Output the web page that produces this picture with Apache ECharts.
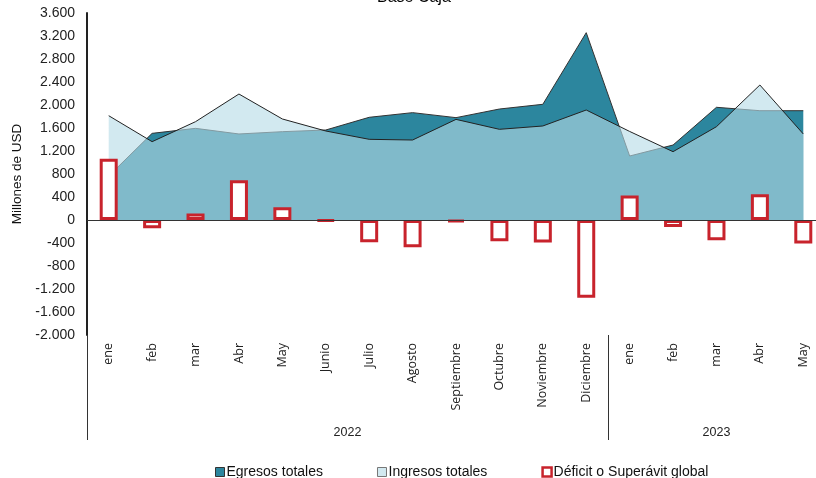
<!DOCTYPE html>
<html>
<head>
<meta charset="utf-8">
<script src="https://cdn.jsdelivr.net/npm/echarts@6/dist/echarts.min.js"></script>
<style>
html,body{margin:0;padding:0;background:#fff;}
#chart{width:816px;height:478px;}
</style>
</head>
<body>
<div id="chart"></div>
<script>
// ---- data ----
const months = ['ene','feb','mar','Abr','May','Junio','Julio','Agosto','Septiembre','Octubre','Noviembre','Diciembre','ene','feb','mar','Abr','May'];
const years = ['2022','2023'];
const monthsPerYear = [12, 5];
const egresos  = [765,1507,1594,1496,1536,1565,1786,1867,1780,1930,2012,3258,1113,1304,1960,1901,1901];
const ingresos = [1814,1362,1710,2191,1757,1548,1403,1391,1750,1577,1635,1913,1540,1188,1623,2348,1496];
const deficit  = [1065,-145,115,690,220,-20,-385,-475,-35,-370,-390,-1350,425,-120,-350,450,-410];
const yMin = -2000, yMax = 3600, yStep = 400;
const seriesNames = ['Egresos totales','Ingresos totales','Déficit o Superávit global'];
const titleText = 'Base Caja';
const yName = 'Millones de USD';

// year group positions (derived from months per year)
const yearBounds = [0];
monthsPerYear.forEach((n,i)=>yearBounds.push(yearBounds[i]+n));
const yearCenters = monthsPerYear.map((n,i)=>yearBounds[i]+n/2);

function fmtThousands(v){
  const s = Math.abs(v).toString().replace(/\B(?=(\d{3})+(?!\d))/g,'.');
  return (v<0?'-':'') + s;
}

const chart = echarts.init(document.getElementById('chart'), null, {renderer:'canvas'});
const baseFont = 'Liberation Sans, Arial, sans-serif';
chart.setOption({
  animation:false,
  backgroundColor:'#fff',
  title:{text:titleText,left:372,top:-15,textStyle:{fontFamily:baseFont,fontSize:16,fontWeight:'normal',color:'#000'}},
  grid:{left:87,top:13,width:738,height:322,containLabel:false,outerBoundsMode:'none'},
  legend:{
    left:210, top:460, itemWidth:9, itemHeight:9, itemGap:54,
    textStyle:{fontFamily:baseFont,fontSize:14,color:'#111',padding:[0,0,0,-3]},
    data:[
      {name:seriesNames[0],icon:'rect',itemStyle:{color:'#2C869E',borderColor:'#333',borderWidth:1}},
      {name:seriesNames[1],icon:'rect',itemStyle:{color:'#D2E9F0',borderColor:'#777',borderWidth:1}},
      {name:seriesNames[2],icon:'rect',itemStyle:{color:'#fff',borderColor:'#C8232C',borderWidth:2.5}}
    ]
  },
  xAxis:[
    {type:'category',data:months,position:'bottom',boundaryGap:true,
     axisLine:{show:false,onZero:false},axisTick:{show:false},
     axisLabel:{interval:0,rotate:90,margin:8,fontFamily:'Open Sans, sans-serif',fontSize:12.5,color:'#222'}},
    {type:'value',min:0,max:months.length,position:'bottom',
     axisLine:{show:false,onZero:false},splitLine:{show:false},
     axisTick:{show:true,customValues:yearBounds.slice(0,-1),length:105,lineStyle:{color:'#333',width:1}},
     axisLabel:{show:true,customValues:yearCenters,margin:91,fontFamily:baseFont,fontSize:12.5,color:'#222',
       formatter:function(v){const i=yearCenters.indexOf(v);return i>=0?years[i]:'';}}}
  ],
  yAxis:{type:'value',min:yMin,max:yMax,interval:yStep,
    name:yName,nameLocation:'middle',nameGap:60,nameRotate:90,
    nameTextStyle:{fontFamily:baseFont,fontSize:13.5,color:'#111'},
    axisLine:{show:true,lineStyle:{color:'#222',width:2}},axisTick:{show:false},
    splitLine:{show:false},
    axisLabel:{margin:12,fontFamily:baseFont,fontSize:14,color:'#222',formatter:fmtThousands}},
  series:[
    {name:seriesNames[0],type:'line',xAxisIndex:0,data:egresos,showSymbol:false,symbol:'none',
     lineStyle:{color:'#333',width:1},itemStyle:{color:'#2C869E'},
     areaStyle:{color:'#2C869E',opacity:1,origin:0},z:2},
    {name:seriesNames[1],type:'line',xAxisIndex:0,data:ingresos,showSymbol:false,symbol:'none',
     lineStyle:{color:'#222',width:1},itemStyle:{color:'#D2E9F0'},
     areaStyle:{color:'#B5DBE6',opacity:0.61,origin:0},z:3},
    {name:seriesNames[2],type:'bar',xAxisIndex:0,data:deficit,barWidth:18,
     itemStyle:{color:'#fff',borderColor:'#C8232C',borderWidth:3},z:4,
     markLine:{silent:true,symbol:'none',label:{show:false},
       lineStyle:{color:'#333',width:1,type:'solid'},data:[{yAxis:0}]}}
  ]
});
</script>
</body>
</html>
